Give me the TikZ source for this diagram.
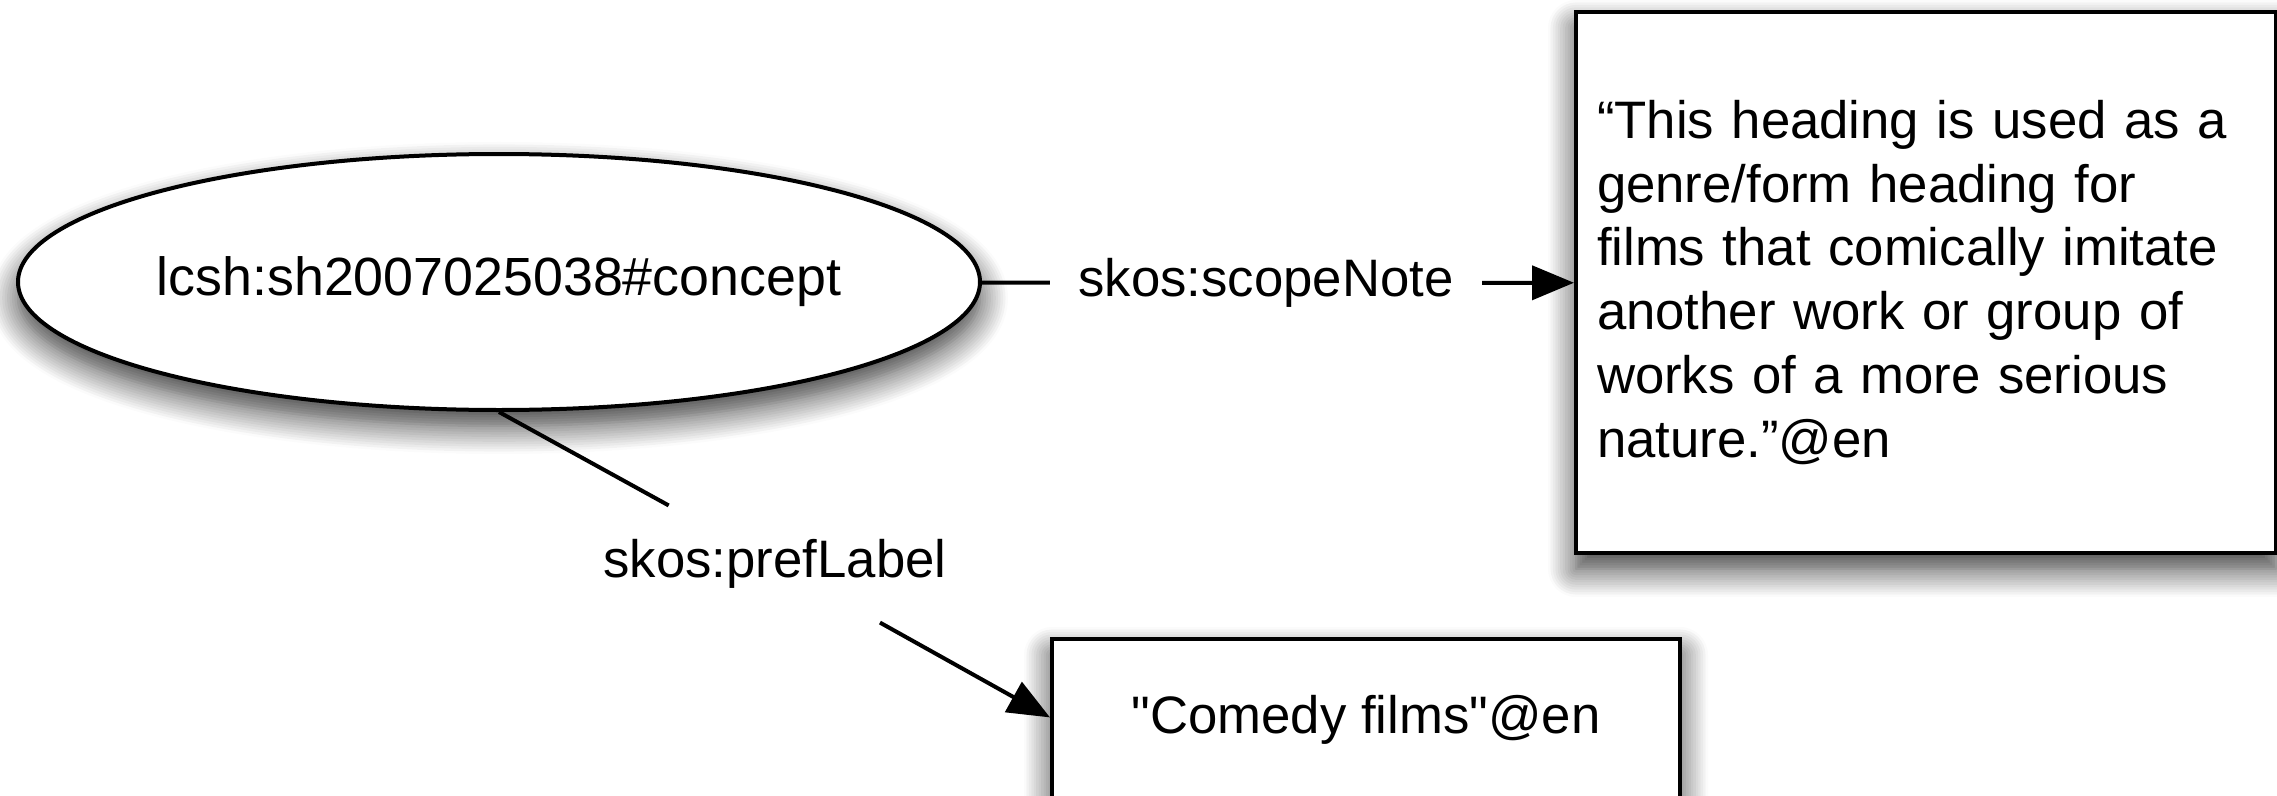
\documentclass[tikz,border=0pt]{standalone}
\usepackage{fontspec}
\setmainfont{Liberation Sans}[Ligatures=TeXOff]
\usetikzlibrary{shapes.geometric,arrows.meta,shadows.blur}

\tikzset{
  every node/.style={font=\fontsize{15}{18.2}\selectfont},
  soft shadow/.style={blur shadow={shadow xshift=0mm, shadow yshift=-1.6mm,
    shadow blur radius=2.8mm, shadow opacity=80, shadow blur steps=12}},
}

\begin{document}
\begin{tikzpicture}[x=0.1mm, y=0.1mm, line width=0.4mm,
  thing/.style={draw, fill=white, soft shadow},
  prop/.style={inner xsep=2.65mm, inner ysep=3.2mm},
  >={Triangle[length=4.2mm, width=3.4mm]}]

\useasboundingbox (0,0) rectangle (2277,795);

\node[thing, ellipse, inner sep=0pt, minimum width=96.2mm, minimum height=25.6mm, font=\fontsize{15.3}{18.2}\selectfont] (concept) at (499,513) {\makebox[0pt]{lcsh:sh2007025038\#concept}};

\node[thing, minimum height=54.1mm, text width=65.8mm, inner xsep=2.1mm, align=left] (note) at (1926,512.5)
  {“This heading is used as a\\ genre/form heading for\\ films that comically imitate\\ another work or group of\\ works of a more serious\\ nature.”@en};

\node[thing, anchor=north, minimum width=62.8mm, inner ysep=0pt, text height=9.4mm, text depth=41.4mm] (comedy) at (1366,158) {"Comedy films"@en};

\node[prop] (scope) at (1266,512) {skos:scopeNote};
\node[prop] (pref) at (775,231) {skos:prefLabel};

\draw (concept) -- (scope);
\draw[->] (scope) -- (note);
\draw (concept.south) -- (pref);
\draw[->] (pref) -- (comedy);

\end{tikzpicture}
\end{document}
